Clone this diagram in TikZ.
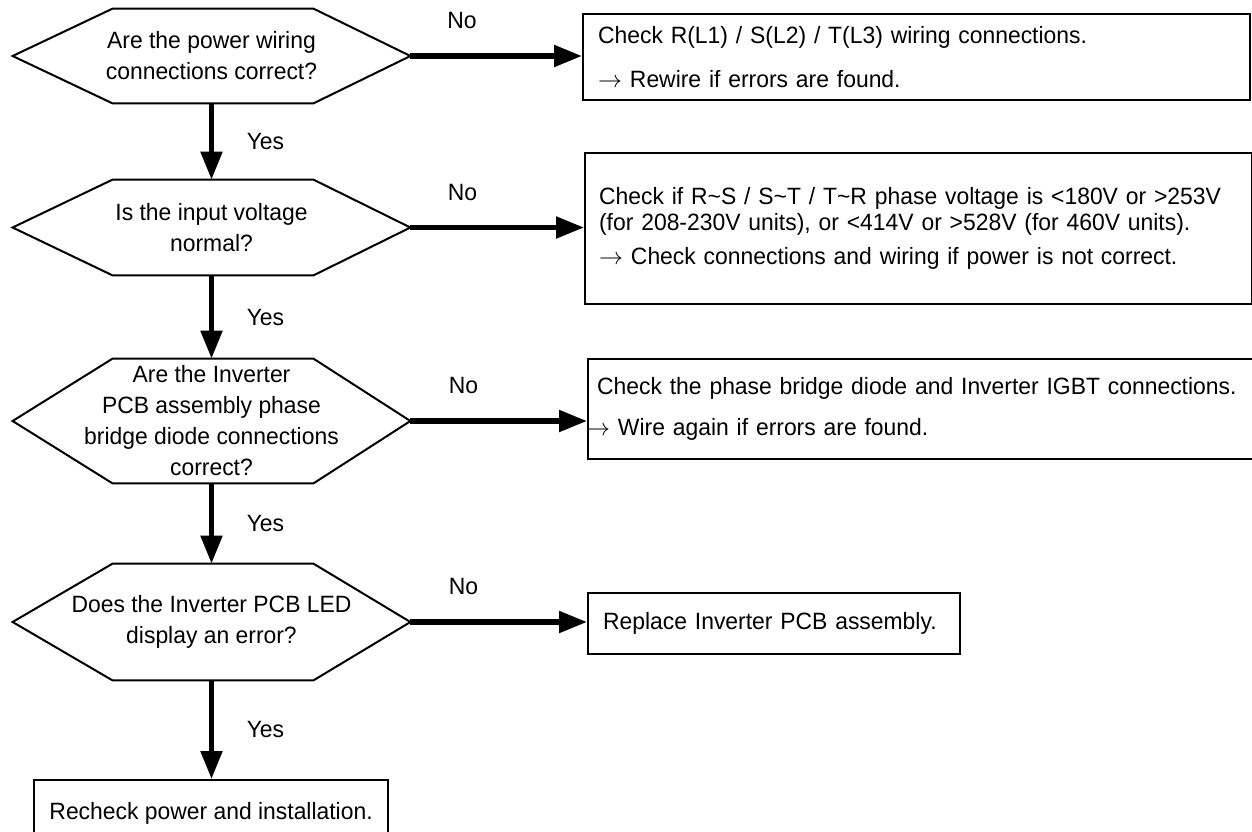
\documentclass[tikz,border=0pt]{standalone}
\usepackage{fontspec}
\setmainfont{Liberation Sans}[FakeStretch=0.97]
\usetikzlibrary{arrows.meta,positioning,calc}
\newcommand{\qfont}{\fontsize{11.8}{15.5}\selectfont}
\newcommand{\boxfont}{\fontsize{11.8}{13}\selectfont}
\tikzset{
    query/.style={rectangle, minimum width=198.5pt, inner sep=0pt, align=center, font=\qfont},
    fixbox/.style={rectangle, draw, line width=1.1pt, anchor=north west, inner xsep=7.5pt, align=left, font=\boxfont},
    hexline/.style={line width=1pt, line join=miter},
    flow/.style={-{Triangle[length=14pt, width=10.5pt]}, line width=2.6pt},
    lbl/.style={font=\qfont},
}
% outline of a decision node
\newcommand{\hexframe}[1]{\draw[hexline] (#1.west) -- ([xshift=50pt]#1.north west) -- ([xshift=-48.5pt]#1.north east) -- (#1.east) -- ([xshift=-48.5pt]#1.south east) -- ([xshift=50pt]#1.south west) -- cycle;}

\begin{document}
\begin{tikzpicture}[x=0.5pt, y=-0.5pt]
    \useasboundingbox (0,0) rectangle (1252,831);

    \node[query, minimum height=47pt] (q1) at (211.5,56) {Are the power wiring\\connections correct?};
    \node[query, minimum height=47.5pt] (q2) at (211.5,227.5) {Is the input voltage\\normal?};
    \node[query, minimum height=62pt] (q3) at (211.5,421) {Are the Inverter\\PCB assembly phase\\bridge diode connections\\correct?};
    \node[query, minimum height=58pt] (q4) at (211.5,622) {Does the Inverter PCB LED\\display an error?};
    \hexframe{q1}
    \hexframe{q2}
    \hexframe{q3}
    \hexframe{q4}

    \node[fixbox, text width=318.5pt, minimum height=43pt] (fix1) at (582,13)
        {Check R(L1) / S(L2) / T(L3) wiring connections.\\[9pt]$\rightarrow$ Rewire if errors are found.};
    \node[fixbox, inner xsep=7pt, text width=319.5pt, minimum height=75.5pt] (fix2) at (584,152)
        {Check if R\textasciitilde S / S\textasciitilde T / T\textasciitilde R phase voltage is <180V or >253V\\(for 208-230V units), or <414V or >528V (for 460V units).\\[4pt]$\rightarrow$ Check connections and wiring if power is not correct.};
    \node[fixbox, inner xsep=4.5pt, text width=326pt, minimum height=50pt] (fix3) at (587,358)
        {Check the phase bridge diode and Inverter IGBT connections.\\[7.5pt]\hspace*{-5.5pt}$\rightarrow$ Wire again if errors are found.};
    \node[fixbox, text width=171pt, minimum height=30.5pt] (fix4) at (587,592) {Replace Inverter PCB assembly.};
    \node[fixbox, align=center, minimum width=177pt, minimum height=33pt] (done) at (33,779) {Recheck power and installation.};

    \draw[flow] (q1) -- node[lbl, right=13pt] {Yes} (q2);
    \draw[flow] (q2) -- node[lbl, right=13pt] {Yes} (q3);
    \draw[flow] (q3) -- node[lbl, right=13pt] {Yes} (q4);
    \draw[flow] (q4) -- node[lbl, right=13pt] {Yes} (q4 |- done.north);
    \draw[flow] (q1.east) -- node[lbl, above=9pt, pos=0.3] {No} (q1.east -| fix1.west);
    \draw[flow] (q2.east) -- node[lbl, above=9pt, pos=0.3] {No} (q2.east -| fix2.west);
    \draw[flow] (q3.east) -- node[lbl, above=9pt, pos=0.3] {No} (q3.east -| fix3.west);
    \draw[flow] (q4.east) -- node[lbl, above=9pt, pos=0.3] {No} (q4.east -| fix4.west);
\end{tikzpicture}
\end{document}
